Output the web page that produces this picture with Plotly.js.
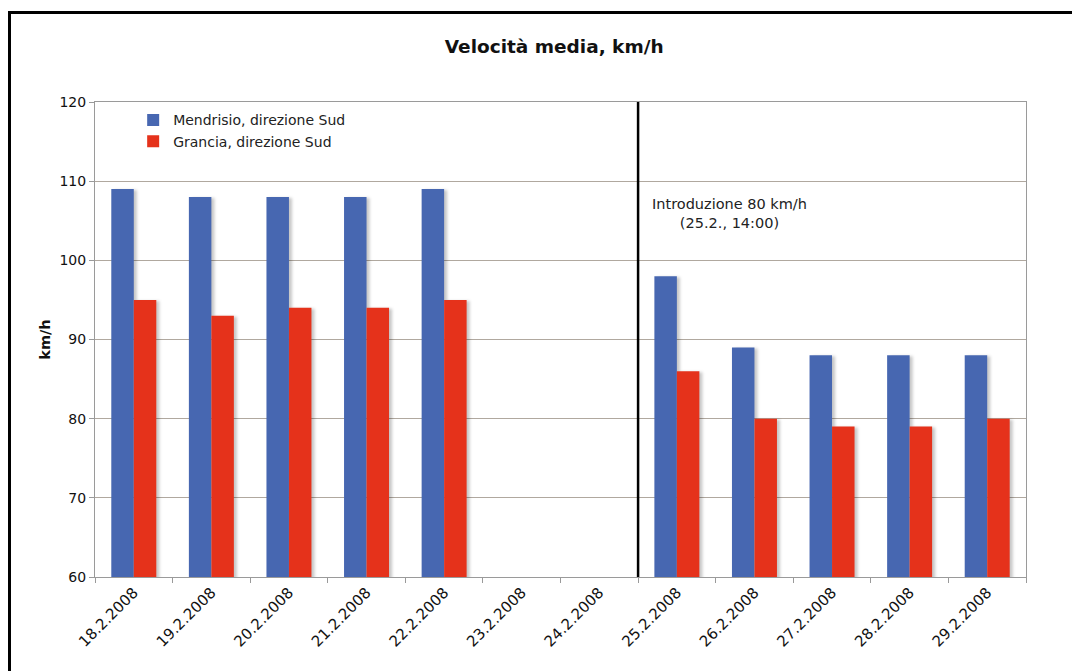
<!DOCTYPE html>
<html>
<head>
<meta charset="utf-8">
<script src="https://cdn.plot.ly/plotly-3.0.1.min.js"></script>
<style>
html,body{margin:0;padding:0;background:#fff;overflow:hidden;}
#wrap{position:relative;width:1072px;height:671px;overflow:hidden;}
#chart{position:absolute;left:0;top:0;width:1072px;height:671px;}
#frame{position:absolute;left:8px;top:11px;width:1200px;height:800px;border-left:3px solid #000;border-top:3px solid #000;pointer-events:none;}
#mask{position:absolute;left:1045px;top:15px;width:40px;height:700px;background:#fff;pointer-events:none;}
.js-plotly-plot .barlayer .point path{filter:drop-shadow(3px 1px 1.5px rgba(0,0,0,0.22));}
</style>
</head>
<body>
<div id="wrap"><div id="chart"></div><div id="frame"></div><div id="mask"></div></div>
<script>
const categories = ["18.2.2008","19.2.2008","20.2.2008","21.2.2008","22.2.2008","23.2.2008","24.2.2008","25.2.2008","26.2.2008","27.2.2008","28.2.2008","29.2.2008"];
const mendrisio = [109,108,108,108,109,null,null,98,89,88,88,88];
const grancia   = [95,93,94,94,95,null,null,86,80,79,79,80];
const seriesNames = ["Mendrisio, direzione Sud","Grancia, direzione Sud"];
const titleText = "Velocità media, km/h";
const yTitle = "km/h";
const noteText = "Introduzione 80 km/h<br>(25.2., 14:00)";

const font = "DejaVu Sans, Verdana, sans-serif";
const gridCol = "#b0a89f";
const axisCol = "#9a9a9a";

const traces = [
  {type:"bar", name:seriesNames[0], x:categories, y:mendrisio, marker:{color:"#4767b1"}},
  {type:"bar", name:seriesNames[1], x:categories, y:grancia, marker:{color:"#e5321b"}}
];

const layout = {
  width:1072, height:671,
  paper_bgcolor:"#ffffff", plot_bgcolor:"#ffffff",
  margin:{l:95, r:46, t:102, b:94},
  barmode:"group", bargap:0.42, bargroupgap:0,
  font:{family:font, color:"#111", size:14},
  title:{text:"<b>"+titleText+"</b>", font:{family:font, size:18.5, color:"#111"}, x:0.517, xref:"container", xanchor:"center", y:0.93, yref:"container", yanchor:"middle"},
  xaxis:{type:"category", tickson:"boundaries", ticks:"outside", ticklen:5, tickcolor:axisCol,
         showline:true, linecolor:axisCol, linewidth:1, mirror:true, showgrid:false,
         tickangle:-45, tickfont:{family:font, size:15, color:"#111"}},
  yaxis:{range:[60,120], dtick:10, ticks:"outside", ticklen:5, tickcolor:axisCol,
         showline:true, linecolor:axisCol, linewidth:1, mirror:true,
         showgrid:true, gridcolor:gridCol, gridwidth:1, zeroline:false,
         tickfont:{family:font, size:14, color:"#111"},
         title:{text:"<b>"+yTitle+"</b>", font:{family:font, size:14.5, color:"#111"}, standoff:5}},
  showlegend:true,
  legend:{x:0.041, y:0.995, xanchor:"left", yanchor:"top", bgcolor:"rgba(0,0,0,0)",
          font:{family:font, size:14, color:"#222"}, traceorder:"normal", tracegroupgap:0},
  annotations:[
    {text:noteText, xref:"paper", yref:"paper", x:0.682, y:0.766, xanchor:"center", yanchor:"middle",
     showarrow:false, align:"center", font:{family:font, size:14.5, color:"#222"}}
  ],
  shapes:[
    {type:"line", xref:"x", yref:"paper", x0:6.5, x1:6.5, y0:0, y1:1, line:{color:"#000", width:2.5}}
  ]
};

Plotly.newPlot("chart", traces, layout, {displayModeBar:false, staticPlot:true});
</script>
</body>
</html>
